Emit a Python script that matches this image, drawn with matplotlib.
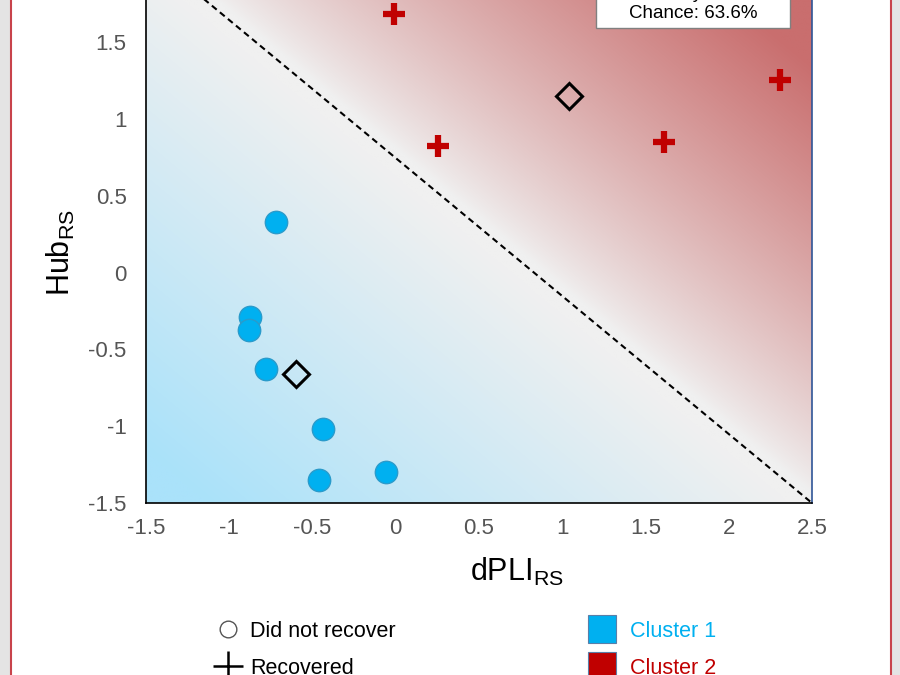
import numpy as np
import matplotlib
matplotlib.use("Agg")
import matplotlib.pyplot as plt
from matplotlib.lines import Line2D
from matplotlib.patches import Rectangle
from matplotlib.colors import to_rgb

plt.rcParams['font.family'] = ['Liberation Sans', 'DejaVu Sans']
plt.rcParams['mathtext.fontset'] = 'custom'
plt.rcParams['mathtext.rm'] = 'Liberation Sans'
plt.rcParams['mathtext.it'] = 'Liberation Sans:italic'

# cluster 1 (did not recover)
c1_x = [-0.72, -0.875, -0.88, -0.78, -0.437, -0.46, -0.06]
c1_y = [0.33, -0.29, -0.375, -0.63, -1.02, -1.35, -1.30]
# cluster 2 (recovered)
c2_x = [-0.01, 0.255, 1.61, 2.31]
c2_y = [1.68, 0.82, 0.85, 1.25]

# decision boundary y = slope * x + intercept
bound_slope = -0.898
bound_intercept = 0.745

chance_text = "Accuracy: 100%\nChance: 63.6%"

blue = "#00B0F0"
red = "#C00000"

xlim = (-1.5, 2.5)
ylim = (-1.5, 2.0)

fig = plt.figure(figsize=(9, 6.75), dpi=100)
ax = fig.add_axes([0.1622, 0.2548, 0.74, 0.7968])
ax.set_xlim(*xlim)
ax.set_ylim(*ylim)

# background gradient, distance measured in screen units
bb = ax.get_position()
w_px = bb.width * 900
h_px = bb.height * 675
gx = np.linspace(xlim[0], xlim[1], 400)
gy = np.linspace(ylim[0], ylim[1], 400)
X, Y = np.meshgrid(gx, gy)
sx = w_px / (xlim[1] - xlim[0])
sy = h_px / (ylim[1] - ylim[0])
d = (Y - (bound_slope * X + bound_intercept)) * sy
ang = np.arctan(-bound_slope * sy / sx)
d = d * np.cos(ang)

grey = np.array(to_rgb("#F0F0F0"))
red_bg = np.array(to_rgb("#C96E6E"))
blue_bg = np.array(to_rgb("#AAE2FA"))
tr = np.clip((d - 8) / 330, 0, 1)[..., None] ** 0.85
tb = np.clip((-d - 15) / 370, 0, 1)[..., None]
img = grey * (1 - tr - tb) + red_bg * tr + blue_bg * tb
ax.imshow(img, extent=[xlim[0], xlim[1], ylim[0], ylim[1]], origin='lower',
          aspect='auto', zorder=0, interpolation='bilinear')

bx = np.array(xlim)
ax.plot(bx, bound_slope * bx + bound_intercept, ls=(0, (3, 2)), color='black', lw=1.5, zorder=2)

ax.scatter(c1_x, c1_y, s=260, color=blue, edgecolors="#2A9BCB", linewidths=1, zorder=3)
ax.plot(c2_x, c2_y, ls='none', marker='+', markersize=16, mew=4.5, color=red, zorder=3)

# centroids
ax.plot([np.mean(c1_x), np.mean(c2_x)], [np.mean(c1_y), np.mean(c2_y)], ls='none',
        marker='D', markersize=13, mfc='none', mec='black', mew=2.2, zorder=4)

# accuracy box
ax.add_patch(Rectangle((1.20, 1.59), 1.17, 0.6, facecolor='white', edgecolor='#808080',
                       lw=1, zorder=5))
ax.text(1.785, 1.632, chance_text, ha='center', va='bottom', fontsize=13.5,
        linespacing=1.2, zorder=6)

ax.set_xticks([-1.5, -1, -0.5, 0, 0.5, 1, 1.5, 2, 2.5])
ax.set_xticklabels(['-1.5', '-1', '-0.5', '0', '0.5', '1', '1.5', '2', '2.5'])
ax.set_yticks([-1.5, -1, -0.5, 0, 0.5, 1, 1.5])
ax.set_yticklabels(['-1.5', '-1', '-0.5', '0', '0.5', '1', '1.5'])
ax.tick_params(axis='x', length=0, labelsize=16, labelcolor='#555555', pad=11)
ax.tick_params(axis='y', length=0, labelsize=16, labelcolor='#555555', pad=14)
ax.set_xlabel(r'dPLI$_{\rm RS}$', fontsize=22)
ax.set_ylabel(r'Hub$_{\rm RS}$', fontsize=22)
ax.xaxis.set_label_coords(0.557, -0.098)
ax.yaxis.set_label_coords(-0.103, 0.465)
for s in ['left', 'bottom']:
    ax.spines[s].set_color('black')
    ax.spines[s].set_linewidth(1.2)
ax.spines['right'].set_color('#2F5597')
ax.spines['right'].set_linewidth(1.2)

# slide frame
fig.patches.append(Rectangle((0, 0), 10 / 900, 1, transform=fig.transFigure,
                             facecolor='#E4E4E4', edgecolor='none'))
fig.patches.append(Rectangle((892 / 900, 0), 8 / 900, 1, transform=fig.transFigure,
                             facecolor='#E4E4E4', edgecolor='none'))
fig.lines.append(Line2D([11 / 900, 11 / 900], [0, 1], transform=fig.transFigure,
                        color='#C8434B', lw=1.5))
fig.lines.append(Line2D([891 / 900, 891 / 900], [0, 1], transform=fig.transFigure,
                        color='#C8434B', lw=1.5))

# legends
shape_handles = [
    Line2D([], [], ls='none', marker='o', markersize=12, mfc='white', mec='#555555', mew=1),
    Line2D([], [], ls='none', marker='+', markersize=22, mec='black', mew=1.8),
]
leg1 = fig.legend(shape_handles, ['Did not recover', 'Recovered'], loc='upper left',
                  bbox_to_anchor=(204 / 900, 1 - 610 / 675), frameon=False, fontsize=15.5,
                  handlelength=1.2, handletextpad=0.45, labelspacing=0.75, borderpad=0)
clus_handles = [
    Line2D([], [], ls='none', marker='s', markersize=20, mfc=blue, mec='#5A7FA8', mew=0.8),
    Line2D([], [], ls='none', marker='s', markersize=20, mfc=red, mec='#5A7FA8', mew=0.8),
]
leg2 = fig.legend(clus_handles, ['Cluster 1', 'Cluster 2'], loc='upper left',
                  bbox_to_anchor=(578 / 900, 1 - 610 / 675), frameon=False, fontsize=15.5,
                  handlelength=1.2, handletextpad=0.7, labelspacing=0.75, borderpad=0,
                  labelcolor=[blue, red])

fig.savefig('out.png', dpi=100)
